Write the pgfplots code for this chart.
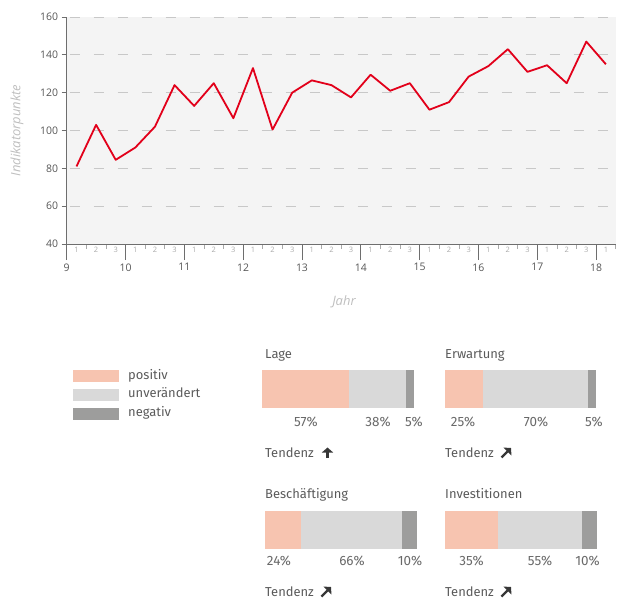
\documentclass[border=0pt]{standalone}
\usepackage{pgfplots}
\pgfplotsset{compat=1.18}
\usetikzlibrary{arrows.meta}
\usepackage{fontspec}
\setmainfont{Fira Sans}
\newfontfamily\chartfont{Open Sans}
\definecolor{bg}{RGB}{244,244,244}
\definecolor{gridc}{RGB}{200,200,200}
\definecolor{axisc}{RGB}{110,110,110}
\definecolor{labc}{RGB}{85,85,85}
\definecolor{minorc}{RGB}{170,170,170}
\definecolor{ylabc}{RGB}{190,190,190}
\definecolor{redl}{RGB}{226,0,26}
\definecolor{cpos}{HTML}{F7C4B0}
\definecolor{cunv}{HTML}{D9D9D9}
\definecolor{cneg}{HTML}{9D9D9C}
\definecolor{txt}{RGB}{90,90,90}
\definecolor{pctc}{RGB}{105,105,105}
\definecolor{arrc}{RGB}{55,55,55}
\pgfplotsset{
  panel/.style={xbar stacked, scale only axis, width=152bp, height=37bp,
    xmin=0, xmax=100, ymin=0.5, ymax=1.5, bar width=37bp, hide axis,
    anchor=north west},
}
\begin{document}
\begin{tikzpicture}
\path[use as bounding box] (0,0) rectangle (617bp,-599bp);
% main line chart
\begin{axis}[
  at={(66.7bp,-244bp)}, anchor=south west,
  scale only axis, width=549bp, height=227bp,
  xmin=9, xmax=18.3333, ymin=40, ymax=160,
  axis lines*=left, tick align=outside,
  axis background/.style={fill=bg},
  axis line style={draw=axisc, line width=0.9bp},
  ytick={40,60,...,160},
  major tick length=5bp, minor tick length=5bp,
  ymajorgrids,
  grid style={draw=gridc, line width=1bp, dash pattern=on 10bp off 14bp, dash phase=21bp},
  ytick style={draw=axisc, line width=0.9bp},
  xtick={9.1667,9.5,9.8333,10.1667,10.5,10.8333,11.1667,11.5,11.8333,12.1667,12.5,12.8333,13.1667,13.5,13.8333,14.1667,14.5,14.8333,15.1667,15.5,15.8333,16.1667,16.5,16.8333,17.1667,17.5,17.8333,18.1667},
  xticklabels={1,2,3,1,2,3,1,2,3,1,2,3,1,2,3,1,2,3,1,2,3,1,2,3,1,2,3,1},
  major x tick style={draw=none},
  minor xtick={9.3333,9.6667,10.3333,10.6667,11.3333,11.6667,12.3333,12.6667,13.3333,13.6667,14.3333,14.6667,15.3333,15.6667,16.3333,16.6667,17.3333,17.6667,18.3333},
  minor x tick style={draw=minorc, line width=0.6bp},
  /pgf/number format/assume math mode=true,
  yticklabel style={font=\chartfont\fontsize{10.5}{12}\selectfont, text=labc},
  xticklabel style={font=\chartfont\fontsize{7.5}{8}\selectfont, text=minorc, inner sep=1bp, yshift=2.8bp},
  ylabel={Indikatorpunkte},
  ylabel style={font=\chartfont\itshape\fontsize{13}{15}\selectfont, text=ylabc,
    at={(axis description cs:-0.0905,0.5)}, anchor=center},
  xlabel={Jahr},
  xlabel style={font=\chartfont\itshape\fontsize{13}{15}\selectfont, text=ylabc,
    at={(axis description cs:0.505,-0.256)}, anchor=center},
]
\addplot[draw=redl, line width=1.8bp, line join=round, mark=none] coordinates {
(9.1667,81) (9.5,103) (9.8333,84.5) (10.1667,91) (10.5,102) (10.8333,124)
(11.1667,113) (11.5,125) (11.8333,106.5) (12.1667,133) (12.5,100.5) (12.8333,120)
(13.1667,126.5) (13.5,124) (13.8333,117.5) (14.1667,129.5) (14.5,121) (14.8333,125)
(15.1667,111) (15.5,115) (15.8333,128.5) (16.1667,134) (16.5,143) (16.8333,131)
(17.1667,134.5) (17.5,125) (17.8333,147) (18.1667,135)};
\end{axis}
% year ticks
\begin{axis}[
  at={(66.7bp,-244bp)}, anchor=south west,
  scale only axis, width=549bp, height=227bp,
  xmin=9, xmax=18.3333, ymin=40, ymax=160,
  axis x line*=bottom, hide y axis, tick align=outside,
  axis line style={draw=axisc, line width=0.9bp},
  xtick={9,10,...,18}, major tick length=16bp,
  xtick style={draw=axisc, line width=0.9bp},
  /pgf/number format/assume math mode=true,
  xticklabel style={font=\chartfont\fontsize{10.5}{12}\selectfont, text=labc},
]
\addplot[draw=none] coordinates {(9,40) (18,40)};
\end{axis}
% legend
\fill[cpos] (72.7bp,-370bp) rectangle (119bp,-382bp);
\fill[cunv] (72.7bp,-389bp) rectangle (119bp,-401bp);
\fill[cneg] (72.7bp,-408bp) rectangle (119bp,-420bp);
\begin{scope}[every node/.style={font=\fontsize{13}{15}\selectfont, text=txt, inner sep=0pt}]
\node[anchor=base west] at (128bp,-379bp) {positiv};
\node[anchor=base west] at (128bp,-397.7bp) {unverändert};
\node[anchor=base west] at (128bp,-416.7bp) {negativ};
% titles
\node[anchor=base west] at (265bp,-358.3bp) {Lage};
\node[anchor=base west] at (445bp,-358.3bp) {Erwartung};
\node[anchor=base west] at (265bp,-498.3bp) {Beschäftigung};
\node[anchor=base west] at (445bp,-498.3bp) {Investitionen};
\node[anchor=base west] at (265bp,-457.3bp) {Tendenz};
\node[anchor=base west] at (445bp,-457.3bp) {Tendenz};
\node[anchor=base west] at (265bp,-596.5bp) {Tendenz};
\node[anchor=base west] at (445bp,-596.5bp) {Tendenz};
\end{scope}
% trend arrows
\begin{scope}[arrc, line width=2.4bp, -{Triangle[length=5bp,width=11bp]}]
\draw (327.5bp,-458bp) -- (327.5bp,-447.5bp);
\draw (501.5bp,-457.5bp) -- (511bp,-448bp);
\draw (321.5bp,-596.5bp) -- (331bp,-587bp);
\draw (501.5bp,-596.5bp) -- (511bp,-587bp);
\end{scope}
% panels
\begin{axis}[panel, at={(262bp,-370bp)}, width=152bp, height=37.5bp, bar width=37.5bp]
\addplot[fill=cpos, draw=none] coordinates {(57,1)};
\addplot[fill=cunv, draw=none] coordinates {(38,1)};
\addplot[fill=cneg, draw=none] coordinates {(5,1)};
\end{axis}
\begin{axis}[panel, at={(445bp,-370bp)}, width=151bp, height=37.5bp, bar width=37.5bp]
\addplot[fill=cpos, draw=none] coordinates {(25,1)};
\addplot[fill=cunv, draw=none] coordinates {(70,1)};
\addplot[fill=cneg, draw=none] coordinates {(5,1)};
\end{axis}
\begin{axis}[panel, at={(265bp,-511bp)}, width=152bp, height=38bp, bar width=38bp]
\addplot[fill=cpos, draw=none] coordinates {(24,1)};
\addplot[fill=cunv, draw=none] coordinates {(66,1)};
\addplot[fill=cneg, draw=none] coordinates {(10,1)};
\end{axis}
\begin{axis}[panel, at={(445bp,-511bp)}, width=152bp, height=38bp, bar width=38bp]
\addplot[fill=cpos, draw=none] coordinates {(35,1)};
\addplot[fill=cunv, draw=none] coordinates {(55,1)};
\addplot[fill=cneg, draw=none] coordinates {(10,1)};
\end{axis}
% percentages
\begin{scope}[every node/.style={font=\fontsize{13.5}{15}\selectfont, text=pctc, inner sep=0pt, anchor=base}]
\node at (306bp,-426bp) {57\%};
\node at (378bp,-426bp) {38\%};
\node at (414bp,-426bp) {5\%};
\node at (463bp,-426bp) {25\%};
\node at (536bp,-426bp) {70\%};
\node at (594bp,-426bp) {5\%};
\node at (279bp,-565.7bp) {24\%};
\node at (352bp,-565.7bp) {66\%};
\node at (410bp,-565.7bp) {10\%};
\node at (471.5bp,-565.7bp) {35\%};
\node at (540bp,-565.7bp) {55\%};
\node at (587.5bp,-565.7bp) {10\%};
\end{scope}
\end{tikzpicture}
\end{document}
